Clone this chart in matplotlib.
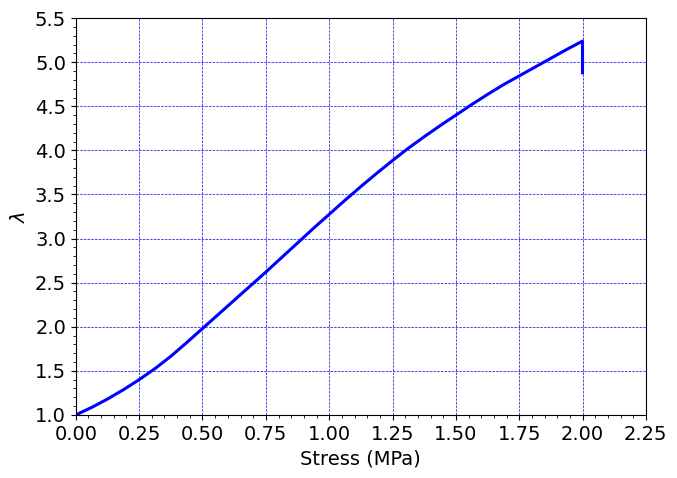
import matplotlib
matplotlib.use("Agg")
import matplotlib.pyplot as plt
from matplotlib.ticker import MultipleLocator

stress = [0.0, 0.0625, 0.125, 0.1875, 0.25, 0.3125, 0.375, 0.4375, 0.5, 0.5625,
          0.625, 0.6875, 0.75, 0.8125, 0.875, 0.9375, 1.0, 1.0625, 1.125, 1.1875,
          1.25, 1.3125, 1.375, 1.4375, 1.5, 1.5625, 1.625, 1.6875, 1.75, 1.8125,
          1.875, 1.9375, 2.0, 2.0]
lam = [1.00, 1.085, 1.18, 1.285, 1.40, 1.525, 1.665, 1.82, 1.98, 2.14,
       2.30, 2.46, 2.62, 2.785, 2.95, 3.115, 3.275, 3.435, 3.59, 3.74,
       3.885, 4.025, 4.155, 4.28, 4.40, 4.52, 4.635, 4.745, 4.845, 4.945,
       5.045, 5.145, 5.24, 4.88]

fig, ax = plt.subplots(figsize=(6.77, 4.78), dpi=100)
fig.subplots_adjust(left=0.112, right=0.954, top=0.962, bottom=0.132)
ax.plot(stress, lam, color='blue', lw=2.2)
ax.set_xlim(0, 2.25)
ax.set_ylim(1.0, 5.5)
ax.xaxis.set_major_locator(MultipleLocator(0.25))
ax.xaxis.set_minor_locator(MultipleLocator(0.05))
ax.yaxis.set_major_locator(MultipleLocator(0.5))
ax.yaxis.set_minor_locator(MultipleLocator(0.1))
ax.grid(True, which='major', color='blue', linestyle='--', linewidth=0.5)
ax.tick_params(labelsize=14)
ax.set_xlabel('Stress (MPa)', fontsize=14)
ax.set_ylabel(r'$\lambda$', fontsize=14)
fig.savefig('out.png', dpi=100)
